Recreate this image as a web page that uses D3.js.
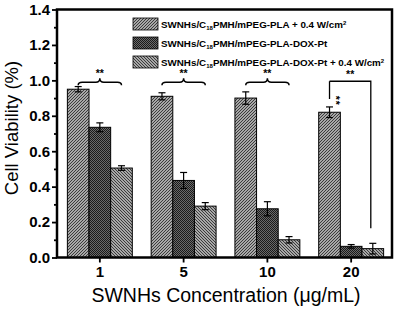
<!DOCTYPE html>
<html>
<head>
<meta charset="utf-8">
<script src="https://cdn.jsdelivr.net/npm/d3@7"></script>
<style>
  body { margin: 0; background: #fff; }
  svg text { font-family: "Liberation Sans", Arial, sans-serif; fill: #000; }
</style>
</head>
<body>
<svg id="chart" width="398" height="310"></svg>
<script>
// data
const concentrations = ["1", "5", "10", "20"];
const seriesNames = [
  ["SWNHs/C", "18", "PMH/mPEG-PLA + 0.4 W/cm", "2"],
  ["SWNHs/C", "18", "PMH/mPEG-PLA-DOX-Pt", ""],
  ["SWNHs/C", "18", "PMH/mPEG-PLA-DOX-Pt + 0.4 W/cm", "2"]
];
const laserOnly = [0.95, 0.91, 0.90, 0.82];
const laserOnlyErr = [0.015, 0.02, 0.035, 0.03];
const doxPt = [0.735, 0.435, 0.275, 0.063];
const doxPtErr = [0.025, 0.045, 0.04, 0.01];
const doxPtLaser = [0.505, 0.29, 0.10, 0.05];
const doxPtLaserErr = [0.013, 0.02, 0.018, 0.03];
const yTicks = [0, 0.2, 0.4, 0.6, 0.8, 1.0, 1.2, 1.4];

const series = [
  { values: laserOnly, errs: laserOnlyErr, fill: "url(#hatchA)" },
  { values: doxPt, errs: doxPtErr, fill: "url(#hatchB)" },
  { values: doxPtLaser, errs: doxPtLaserErr, fill: "url(#hatchC)" }
];

const svg = d3.select("#chart");
const mLeft = 57, mRight = 392, mTop = 9.5, mBottom = 257.5;

const x = d3.scaleBand().domain(concentrations).range([59, mRight]).paddingInner(0.225).paddingOuter(0.1);
const xs = d3.scaleBand().domain([0, 1, 2]).range([0, x.bandwidth()]);
const y = d3.scaleLinear().domain([0, 1.4]).range([mBottom, mTop]);

// hatch patterns
const defs = svg.append("defs");
function lines(id, dir) {
  const p = defs.append("pattern").attr("id", id).attr("patternUnits", "userSpaceOnUse")
    .attr("width", 3).attr("height", 3);
  p.append("rect").attr("width", 3).attr("height", 3).attr("fill", "#d6d6d6");
  const d = dir > 0 ? "M-1,1 L1,-1 M0,3 L3,0 M2,4 L4,2" : "M-1,2 L1,4 M0,0 L3,3 M2,-1 L4,1";
  p.append("path").attr("d", d).attr("stroke", "#333").attr("stroke-width", 1.1);
}
lines("hatchA", 1);
lines("hatchC", -1);
const pb = defs.append("pattern").attr("id", "hatchB").attr("patternUnits", "userSpaceOnUse")
  .attr("width", 2).attr("height", 2);
pb.append("rect").attr("width", 2).attr("height", 2).attr("fill", "#6a6a6a");
pb.append("rect").attr("width", 1).attr("height", 1).attr("fill", "#1a1a1a");
pb.append("rect").attr("x", 1).attr("y", 1).attr("width", 1).attr("height", 1).attr("fill", "#1a1a1a");

// bars
series.forEach((s, i) => {
  const g = svg.append("g");
  g.selectAll("rect").data(s.values).join("rect")
    .attr("x", (d, j) => x(concentrations[j]) + xs(i))
    .attr("y", d => y(d))
    .attr("width", xs.bandwidth())
    .attr("height", d => y(0) - y(d))
    .attr("fill", s.fill)
    .attr("stroke", "#000").attr("stroke-width", 1);
  // error bars
  s.values.forEach((v, j) => {
    const cx = x(concentrations[j]) + xs(i) + xs.bandwidth() / 2;
    const e = s.errs[j];
    const eg = svg.append("g").attr("stroke", "#000").attr("stroke-width", 1.2);
    eg.append("line").attr("x1", cx).attr("x2", cx).attr("y1", y(v + e)).attr("y2", y(Math.max(0, v - e)));
    eg.append("line").attr("x1", cx - 3.5).attr("x2", cx + 3.5).attr("y1", y(v + e)).attr("y2", y(v + e));
    eg.append("line").attr("x1", cx - 3.5).attr("x2", cx + 3.5).attr("y1", y(Math.max(0, v - e))).attr("y2", y(Math.max(0, v - e)));
  });
});

// axes
const yAxis = svg.append("g").attr("transform", `translate(${mLeft},0)`)
  .call(d3.axisLeft(y).tickValues(yTicks).tickFormat(d3.format(".1f")).tickSize(5).tickSizeOuter(0));
const yMinor = svg.append("g").attr("transform", `translate(${mLeft},0)`)
  .call(d3.axisLeft(y).tickValues([0.1, 0.3, 0.5, 0.7, 0.9, 1.1, 1.3]).tickFormat("").tickSize(3).tickSizeOuter(0));
yMinor.select(".domain").remove();
const xAxis = svg.append("g").attr("transform", `translate(0,${mBottom})`)
  .call(d3.axisBottom(x).tickSize(5).tickSizeOuter(0));
xAxis.select(".domain").remove();
[yAxis, yMinor, xAxis].forEach(a => {
  a.selectAll(".tick line").attr("stroke", "#000").attr("stroke-width", 1.8);
  a.selectAll("text").attr("font-size", 15).attr("font-weight", "bold").attr("fill", "#000");
});
yAxis.select(".domain").remove();
yAxis.selectAll("text").attr("x", -7);
xAxis.selectAll("text").attr("y", 9);

// frame
svg.append("rect").attr("x", mLeft).attr("y", mTop).attr("width", mRight - mLeft).attr("height", mBottom - mTop)
  .attr("fill", "none").attr("stroke", "#000").attr("stroke-width", 2.5);

// axis titles
svg.append("text").attr("x", 226).attr("y", 302).attr("text-anchor", "middle")
  .attr("font-size", 19.5).text("SWNHs Concentration (μg/mL)");
svg.append("text").attr("transform", "translate(18,128) rotate(-90)")
  .attr("text-anchor", "middle").attr("font-size", 18.5).text("Cell Viability (%)");

// legend
const fills = series.map(s => s.fill);
seriesNames.forEach((n, i) => {
  const ly = 18 + i * 19;
  svg.append("rect").attr("x", 133).attr("y", ly).attr("width", 25).attr("height", 12)
    .attr("fill", fills[i]).attr("stroke", "#000").attr("stroke-width", 0.8);
  const t = svg.append("text").attr("x", 161).attr("y", ly + 10).attr("font-size", 9.8)
    .attr("font-weight", "bold");
  t.append("tspan").text(n[0]);
  t.append("tspan").attr("font-size", 6).attr("dy", 2).text(n[1]);
  t.append("tspan").attr("dy", -2).text(n[2]);
  if (n[3]) t.append("tspan").attr("font-size", 6).attr("dy", -3.5).text(n[3]);
});

// significance braces
function brace(x1, x2, yv) {
  const yy = y(yv), xm = (x1 + x2) / 2;
  const p = d3.path();
  p.moveTo(x1, yy + 3);
  p.quadraticCurveTo(x1, yy, x1 + 4, yy);
  p.lineTo(xm - 4, yy);
  p.quadraticCurveTo(xm, yy, xm, yy - 4);
  p.quadraticCurveTo(xm, yy, xm + 4, yy);
  p.lineTo(x2 - 4, yy);
  p.quadraticCurveTo(x2, yy, x2, yy + 3);
  return p.toString();
}
const sigText = (tx, ty, s) => svg.append("text").attr("x", tx).attr("y", ty).attr("text-anchor", "middle")
  .attr("font-size", 10.5).attr("font-weight", "bold").attr("fill", "#000").text(s);
concentrations.slice(0, 3).forEach(c => {
  const x1 = x(c) + xs(0) + xs.bandwidth() / 2;
  const x2 = x(c) + xs(2) + xs.bandwidth() / 2;
  svg.append("path").attr("d", brace(x1, x2, 0.99)).attr("fill", "none").attr("stroke", "#000").attr("stroke-width", 1.5);
  sigText((x1 + x2) / 2, y(0.99) - 5, "**");
});
// bracket at 20
const c4 = concentrations[3];
const bx1 = x(c4) + xs(0) + xs.bandwidth() / 2;
const bx2 = x(c4) + xs(2) + xs.bandwidth() / 2 - 2;
svg.append("path").attr("d", `M${bx1},${y(0.995)}H${bx2}V${y(0.165)}M${bx1},${y(0.995)}V${y(0.895)}`)
  .attr("fill", "none").attr("stroke", "#000").attr("stroke-width", 1.3);
sigText((bx1 + bx2) / 2, y(0.995) - 3, "**");
// vertically stacked pair of stars, drawn as one rotated label
svg.append("text").attr("transform", `translate(${bx1 + 8},${y(0.885)}) rotate(90)`)
  .attr("x", 0).attr("y", 5.5).attr("text-anchor", "middle").attr("letter-spacing", 1)
  .attr("font-size", 10.5).attr("font-weight", "bold").attr("fill", "#000").text("**");
</script>
</body>
</html>
